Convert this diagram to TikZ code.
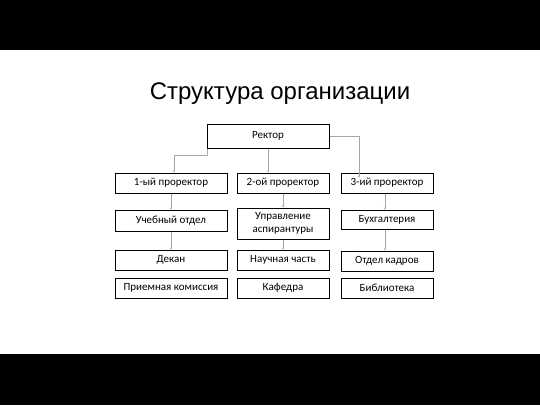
\documentclass[tikz,border=0pt]{standalone}
\usepackage{fontspec}
\setmainfont{Carlito}
\newfontfamily\titlefont{Liberation Sans}
\usetikzlibrary{arrows.meta}
\begin{document}
\begin{tikzpicture}[x=1pt,y=-1pt,
  box/.style={draw=black,line width=1pt,fill=white,inner sep=1pt,align=center,font=\fontsize{11}{12}\selectfont,minimum height=20pt},
  wide/.style={minimum width=112pt},
  narrow/.style={minimum width=92pt},
  conn/.style={draw=gray!70,line width=0.9pt,-{Stealth[length=2pt,width=2pt]}}]
\useasboundingbox (0,0) rectangle (540,405);
\fill[black] (0,0) rectangle (540,50);
\fill[black] (0,354) rectangle (540,405);
\node[font=\titlefont\fontsize{24}{28}\selectfont] (title) at (280,94) {Структура организации};
\node[box,minimum width=122pt,minimum height=24pt] (rector) at (268,136) {Ректор};
\node[box,wide] (p1) at (171,183) {1-ый проректор};
\node[box,narrow] (p2) at (283,183) {2-ой проректор};
\node[box,narrow] (p3) at (387,183) {3-ий проректор};
\node[box,wide,minimum height=21pt] (a1) at (171,220.5) {Учебный отдел};
\node[box,narrow,minimum height=31pt,font=\fontsize{11}{13.5}\selectfont] (a2) at (283,223.5) {Управление\\аспирантуры};
\node[box,narrow,minimum height=19pt] (a3) at (387,219.5) {Бухгалтерия};
\node[box,wide] (b1) at (171,260) {Декан};
\node[box,narrow] (b2) at (283,260) {Научная часть};
\node[box,narrow] (b3) at (387,261) {Отдел кадров};
\node[box,wide] (c1) at (171,288) {Приемная комиссия};
\node[box,narrow] (c2) at (283,288) {Кафедра};
\node[box,narrow] (c3) at (387,288) {Библиотека};
% connectors
\coordinate (l1) at ([xshift=1pt]rector.south west);
\draw[conn] (l1) -- ++(0,7) -| ([xshift=3pt]p1.north);
\draw[conn] (rector.south) -- (rector.south |- p2.north);
\coordinate (r1) at (rector.east);
\draw[conn] (r1) -| ([xshift=-28pt,yshift=-5pt]p3.north);
\draw[conn] (p1.south) -- (a1.north);
\draw[conn] (p2.south) -- (a2.north);
\draw[conn] ([xshift=-2pt]p3.south) -- ([xshift=-2pt]a3.north);
\draw[conn] (a1.south) -- (b1.north);
\draw[conn] (a2.south) -- (b2.north);
\draw[conn] ([xshift=-2pt]a3.south) -- ([xshift=-2pt]b3.north);
\end{tikzpicture}
\end{document}
